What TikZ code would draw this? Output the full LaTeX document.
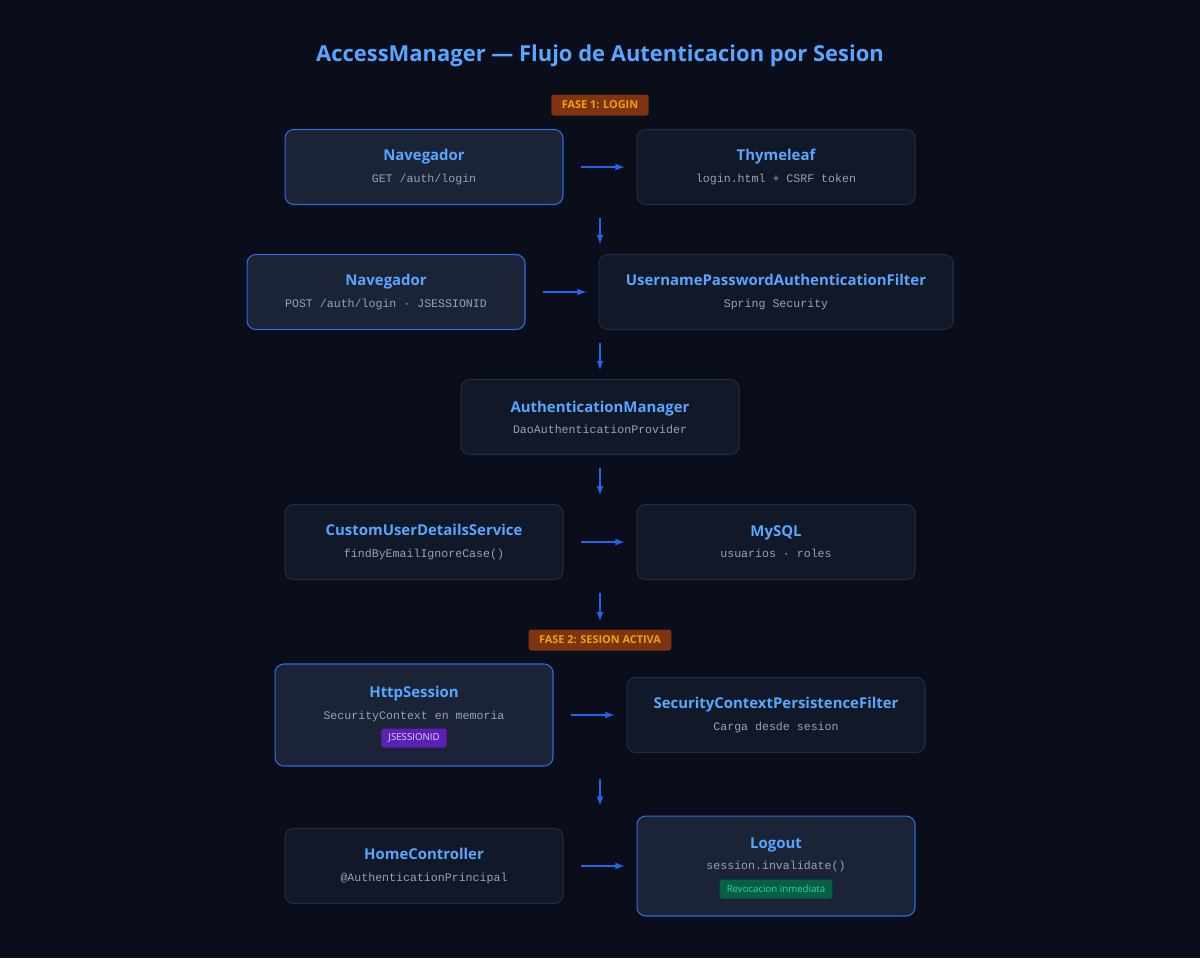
\documentclass[tikz,border=0pt]{standalone}
\usepackage{fontspec}
\setmainfont{Open Sans}
\newfontfamily\monofont{Liberation Mono}
\usetikzlibrary{positioning}
\definecolor{bgc}{HTML}{0A0E1A}
\definecolor{boxc}{HTML}{111827}
\definecolor{boxhi}{HTML}{1B2436}
\definecolor{linec}{HTML}{1F2C4A}
\definecolor{hilinec}{HTML}{2F6AE0}
\definecolor{titc}{HTML}{58A6FF}
\definecolor{subc}{HTML}{94A3B8}
\definecolor{arrc}{HTML}{2563EB}
\definecolor{phasec}{HTML}{7C3510}
\definecolor{phasetc}{HTML}{F59E0B}
\definecolor{purplec}{HTML}{5B21B6}
\definecolor{purpletc}{HTML}{DDD6FE}
\definecolor{greenc}{HTML}{065F46}
\definecolor{greentc}{HTML}{34D399}

\begin{document}
\begin{tikzpicture}[x=0.02cm, y=-0.02cm,
    card/.style={draw=linec, fill=boxc, rounded corners=5pt, line width=0.6pt,
      minimum width=5.56cm, minimum height=1.5cm, align=center, inner sep=0pt},
    hicard/.style={card, draw=hilinec, fill=boxhi},
    phase/.style={fill=phasec, text=phasetc, rounded corners=1.5pt,
      font=\bfseries\fontsize{6.2}{7}\selectfont, minimum height=0.42cm, inner xsep=6pt, inner ysep=0pt},
    tag/.style={rounded corners=1.5pt, font=\fontsize{5.5}{6.5}\selectfont,
      minimum height=0.38cm, inner xsep=4pt, inner ysep=0pt},
    flow/.style={-latex, draw=arrc, line width=0.8pt},
    ]
  \fill[bgc] (0,0) rectangle (1200,958);
  \node[text=titc, font=\bfseries\fontsize{12.5}{14}\selectfont] (title) at (600,56)
    {AccessManager — Flujo de Autenticacion por Sesion};

  % fase 1
  \node[phase] (fase1) at (600,105) {FASE 1: LOGIN};
  \node[hicard] (nav1) at (424,167) {{\color{titc}\bfseries\fontsize{8.5}{10}\selectfont Navegador}\\
    {\color{subc}\monofont\fontsize{6.6}{8}\selectfont GET /auth/login}};
  \node[card] (thyme) at (776,167) {{\color{titc}\bfseries\fontsize{8.5}{10}\selectfont Thymeleaf}\\
    {\color{subc}\monofont\fontsize{6.6}{8}\selectfont login.html + CSRF token}};
  \node[hicard] (nav2) at (386,292) {{\color{titc}\bfseries\fontsize{8.5}{10}\selectfont Navegador}\\
    {\color{subc}\monofont\fontsize{6.6}{8}\selectfont POST /auth/login · JSESSIONID}};
  \node[card, minimum width=7.08cm] (upaf) at (776,292) {{\color{titc}\bfseries\fontsize{8.5}{10}\selectfont UsernamePasswordAuthenticationFilter}\\
    {\color{subc}\monofont\fontsize{6.6}{8}\selectfont Spring Security}};
  \node[card] (authm) at (600,417) {{\color{titc}\bfseries\fontsize{8.5}{10}\selectfont AuthenticationManager}\\
    {\color{subc}\monofont\fontsize{6.6}{8}\selectfont DaoAuthenticationProvider}};
  \node[card] (cuds) at (424,542) {{\color{titc}\bfseries\fontsize{8.5}{10}\selectfont CustomUserDetailsService}\\
    {\color{subc}\monofont\fontsize{6.6}{8}\selectfont findByEmailIgnoreCase()}};
  \node[card] (mysql) at (776,542) {{\color{titc}\bfseries\fontsize{8.5}{10}\selectfont MySQL}\\
    {\color{subc}\monofont\fontsize{6.6}{8}\selectfont usuarios · roles}};

  % fase 2
  \node[phase] (fase2) at (600,640) {FASE 2: SESION ACTIVA};
  \node[hicard, minimum height=2.04cm] (hsess) at (414,715) {};
  \node[align=center, inner sep=0pt] (hsesst) at (414,704) {{\color{titc}\bfseries\fontsize{8.5}{10}\selectfont HttpSession}\\
    {\color{subc}\monofont\fontsize{6.6}{8}\selectfont SecurityContext en memoria}};
  \node[tag, fill=purplec, text=purpletc] (jsid) at (414,738) {JSESSIONID};
  \node[card, minimum width=5.96cm] (scpf) at (776,715) {{\color{titc}\bfseries\fontsize{8.5}{10}\selectfont SecurityContextPersistenceFilter}\\
    {\color{subc}\monofont\fontsize{6.6}{8}\selectfont Carga desde sesion}};
  \node[card] (home) at (424,866) {{\color{titc}\bfseries\fontsize{8.5}{10}\selectfont HomeController}\\
    {\color{subc}\monofont\fontsize{6.6}{8}\selectfont @AuthenticationPrincipal}};
  \node[hicard, minimum height=2cm] (logout) at (776,866) {};
  \node[align=center, inner sep=0pt] (logoutt) at (776,855) {{\color{titc}\bfseries\fontsize{8.5}{10}\selectfont Logout}\\
    {\color{subc}\monofont\fontsize{6.6}{8}\selectfont session.invalidate()}};
  \node[tag, fill=greenc, text=greentc] (revoc) at (776,889) {Revocacion inmediata};

  % conectores
  \draw[flow] ([xshift=0.34cm]nav1.east) -- ([xshift=-0.24cm]thyme.west);
  \draw[flow] ([yshift=-0.26cm]thyme.south -| fase1) -- ([yshift=0.2cm]nav2.north -| fase1);
  \draw[flow] ([xshift=0.34cm]nav2.east) -- ([xshift=-0.24cm]upaf.west);
  \draw[flow] ([yshift=-0.26cm]upaf.south -| fase1) -- ([yshift=0.18cm]authm.north);
  \draw[flow] ([yshift=-0.26cm]authm.south) -- ([yshift=0.18cm]cuds.north -| fase1);
  \draw[flow] ([yshift=-0.26cm]mysql.south -| fase1) -- ([yshift=0.16cm]fase2.north);
  \draw[flow] ([xshift=0.34cm]cuds.east) -- ([xshift=-0.24cm]mysql.west);
  \draw[flow] ([xshift=0.34cm]hsess.east) -- ([xshift=-0.24cm]scpf.west);
  \draw[flow] ([yshift=-0.52cm]scpf.south -| fase1) -- ([yshift=0.2cm]logout.north -| fase1);
  \draw[flow] ([xshift=0.34cm]home.east) -- ([xshift=-0.24cm]logout.west);
\end{tikzpicture}
\end{document}
